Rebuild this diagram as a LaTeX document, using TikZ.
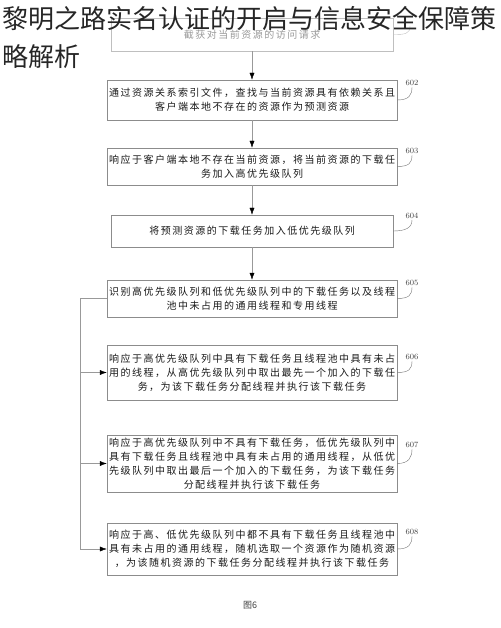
\documentclass[tikz,border=0pt]{standalone}
\usepackage{fontspec}
\usetikzlibrary{arrows.meta}
\newfontfamily\cjk[LetterSpace=15]{Noto Sans CJK SC}
\newfontfamily\titlefont{Noto Sans CJK SC}

\begin{document}
\begin{tikzpicture}[x=1pt,y=-1pt,
    box/.style={draw=black!45, minimum width=282pt, inner sep=2pt, align=center,
                text=black!90, font=\cjk\fontsize{10}{14}\selectfont},
    flow/.style={draw=black!40, -{Latex[length=7pt,width=5pt,color=black]}},
    tag/.style={font=\fontsize{8}{9}\selectfont, text=black!75, inner sep=1pt},
    hook/.style={draw=black!55}]
  \useasboundingbox (0,0) rectangle (500,628);
  %uncomment to see grid in pixel units:
  %\draw[dotted,step=50,black,very thin] (0,0) grid (500,628);

  % steps
  \node[box, minimum height=33pt, draw=black!25, text=black!40] (b1) at (252,34.5) {截获对当前资源的访问请求};
  \node[box, minimum height=40pt] (b2) at (252,100) {通过资源关系索引文件，查找与当前资源具有依赖关系且\\客户端本地不存在的资源作为预测资源};
  \node[box, minimum height=37pt] (b3) at (252,166.5) {响应于客户端本地不存在当前资源，将当前资源的下载任\\务加入高优先级队列};
  \node[box, minimum height=32pt] (b4) at (252,231) {将预测资源的下载任务加入低优先级队列};
  \node[box, minimum height=37pt] (b5) at (252,298.5) {识别高优先级队列和低优先级队列中的下载任务以及线程\\池中未占用的通用线程和专用线程};
  \node[box, minimum height=55pt] (b6) at (252,372.5) {响应于高优先级队列中具有下载任务且线程池中具有未占\\用的线程，从高优先级队列中取出最先一个加入的下载任\\务，为该下载任务分配线程并执行该下载任务};
  \node[box, minimum height=57pt] (b7) at (252,463.5) {响应于高优先级队列中不具有下载任务，低优先级队列中\\具有下载任务且线程池中具有未占用的通用线程，从低优\\先级队列中取出最后一个加入的下载任务，为该下载任务\\分配线程并执行该下载任务};
  \node[box, minimum height=52pt] (b8) at (252,549) {响应于高、低优先级队列中都不具有下载任务且线程池中\\具有未占用的通用线程，随机选取一个资源作为随机资源\\，为该随机资源的下载任务分配线程并执行该下载任务};

  % step numbers
  \node[tag] (l2) at (412,83) {602};
  \node[tag] (l3) at (412,151) {603};
  \node[tag] (l4) at (412,216) {604};
  \node[tag] (l5) at (412,283) {605};
  \node[tag] (l6) at (412,357) {606};
  \node[tag] (l7) at (412,445) {607};
  \node[tag] (l8) at (412,532) {608};
  \coordinate (l1) at (410,26);
  \draw[hook, draw=black!25] (b1.east) .. controls +(12,0) and +(0,8) .. (l1);
  \foreach \i in {2,...,8}
    \draw[hook] (b\i.east) .. controls +(12,0) and +(0,8) .. (l\i.south);

  % main flow
  \foreach \i/\j in {1/2,2/3,3/4,4/5}
    \draw[flow] (b\i) -- (b\j);

  % dispatch rail on the left
  \coordinate (rail) at (80,0);
  \draw[draw=black!40] (b5.west) -- (b5.west -| rail) -- (b8.west -| rail);
  \foreach \b in {b6,b7,b8}
    \draw[flow] (\b.west -| rail) -- (\b.west);

  % caption
  \node[font=\titlefont\fontsize{9}{10}\selectfont, text=black!75] (cap) at (250,605) {图6};

  % overlaid title
  \node[anchor=base west, align=left, inner sep=0pt, text=black!85,
        font=\titlefont\fontsize{26}{38}\selectfont] (title) at (2,67)
        {黎明之路实名认证的开启与信息安全保障策\\略解析};
\end{tikzpicture}
\end{document}
